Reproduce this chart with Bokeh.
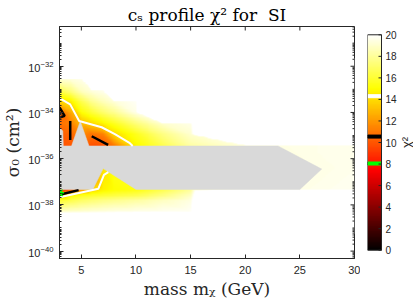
import numpy as np
from bokeh.plotting import figure
from bokeh.layouts import row
from bokeh.models import LinearColorMapper, FixedTicker, Range1d
from bokeh.embed import file_html
from bokeh.resources import INLINE

# ---------------- data ----------------
mass_grid = [3, 4, 5, 6, 7, 8, 10, 12.5, 15, 20, 25, 30]            # GeV
log_sigma_grid = [-39.25, -38.3, -37.825, -37.6, -37.35, -36.4, -35.45,
                  -34.975, -34.5, -34.025, -33.55, -33.075, -32.6, -31.65]
HI = 40.0   # chi^2 well above the colour range (drawn white)
chi2_grid = [
    [HI, HI, HI, HI, HI, HI, HI, HI, HI, HI, HI, HI],                      # -39.25
    [19.0, 19.1, 19.2, 19.3, 19.4, 19.5, 19.6, 19.7, 19.8, HI, HI, HI],    # -38.3
    [16.0, 16.5, 17.0, 17.3, 17.6, 17.8, 18.2, 18.8, 19.4, HI, HI, HI],    # -37.825
    [12.5, 14.8, 15.5, 15.8, 16.0, 16.2, 16.5, 17.5, 18.8, HI, HI, HI],    # -37.6
    [8.3, 10.0, 12.0, 13.8, 14.6, 15.0, 15.3, 16.5, 18.0, 19.6, 19.5, 19.7],  # -37.35
    [9.0, 9.0, 9.5, 11.0, 14.2, 15.5, 16.5, 17.5, 18.5, 19.3, 19.4, 19.6],   # -36.4
    [9.8, 10.0, 10.5, 9.8, 9.9, 11.0, 14.8, 16.5, 18.2, 19.3, 19.5, 19.6],   # -35.45
    [10.2, 10.4, 11.5, 10.8, 11.2, 13.8, 15.5, 17.5, 19.0, HI, HI, HI],      # -34.975
    [10.8, 11.2, 13.0, 13.8, 14.6, 15.5, 17.3, 19.0, 19.5, HI, HI, HI],      # -34.5
    [10.3, 12.3, 15.0, 16.0, 17.0, 17.8, 19.5, HI, HI, HI, HI, HI],          # -34.025
    [13.8, 14.5, 16.5, 17.8, 18.6, 19.2, 19.8, HI, HI, HI, HI, HI],          # -33.55
    [16.5, 17.5, 18.8, 19.3, 19.6, HI, HI, HI, HI, HI, HI, HI],              # -33.075
    [19.0, 19.2, 19.5, HI, HI, HI, HI, HI, HI, HI, HI, HI],                  # -32.6
    [HI, HI, HI, HI, HI, HI, HI, HI, HI, HI, HI, HI],                        # -31.65
]

# excluded (grey) region
excl_mass = [3.0, 3.3, 3.35, 4.1, 4.9, 5.7, 23.0, 27.0, 25.0, 10.0, 7.0, 6.05, 3.0]
excl_logsig = [-34.65, -34.8, -35.45, -35.45, -34.38, -35.45, -35.45, -36.45,
               -37.33, -37.33, -36.43, -37.33, -37.33]

# contour lines (white: 2 sigma, black: 1 sigma)
white_mass = [[3.0, 3.98, 4.8, 6.86, 8.07, 9.44, 9.7],
              [3.0, 6.56, 7.07, 7.47]]
white_logsig = [[-33.38, -33.65, -34.37, -34.64, -34.94, -35.33, -35.45],
                [-37.67, -37.30, -36.70, -36.58]]
black_mass = [[3.0, 3.47, 3.0], [3.98, 3.98], [5.95, 7.45], [3.0, 4.75]]
black_logsig = [[-33.78, -34.15, -34.22], [-34.37, -35.19],
                [-35.03, -35.40], [-37.56, -37.36]]

best_mass = [3.0]
best_logsig = [-37.48]

contour_levels = [8.05, 10.55, 14.3]
contour_colors = ["#00ff00", "#000000", "#ffffff"]

x_range = (3, 30)
y_range_exp = (-40.32, -30.28)
x_ticks = [5, 10, 15, 20, 25, 30]
y_major_exp = [-40, -38, -36, -34, -32]
cbar_range = (0, 20)
cbar_ticks = [0, 2, 4, 6, 8, 10, 12, 14, 16, 18, 20]

# ---------------- styling helpers ----------------
def hot(n=256):
    n1 = int(3 * n / 8)
    r = np.concatenate([np.arange(1, n1 + 1) / n1, np.ones(n - n1)])
    g = np.concatenate([np.zeros(n1), np.arange(1, n1 + 1) / n1, np.ones(n - 2 * n1)])
    n3 = n - 2 * n1
    b = np.concatenate([np.zeros(2 * n1), np.arange(1, n3 + 1) / n3])
    return ["#%02x%02x%02x" % (int(round(a * 255)), int(round(c * 255)), int(round(d * 255)))
            for a, c, d in zip(r, g, b)]

palette = hot(256)
mapper = LinearColorMapper(palette=palette, low=cbar_range[0], high=cbar_range[1])

# piecewise-linear (triangulated) shading of the grid, for display
M = np.array(mass_grid, float)
S = np.array(log_sigma_grid, float)
F = np.array(chi2_grid, float)
W, H = 300, 240
mx = M[0] + (np.arange(W) + 0.5) * (M[-1] - M[0]) / W
sy = S[0] + (np.arange(H) + 0.5) * (S[-1] - S[0]) / H
MM, SS = np.meshgrid(mx, sy)
i = np.clip(np.searchsorted(M, MM, side="right") - 1, 0, len(M) - 2)
j = np.clip(np.searchsorted(S, SS, side="right") - 1, 0, len(S) - 2)
u = (MM - M[i]) / (M[i + 1] - M[i])
v = (SS - S[j]) / (S[j + 1] - S[j])
f00, f10, f01, f11 = F[j, i], F[j, i + 1], F[j + 1, i], F[j + 1, i + 1]
img = np.where(u + v <= 1,
               f00 + u * (f10 - f00) + v * (f01 - f00),
               f11 + (1 - u) * (f01 - f11) + (1 - v) * (f10 - f11))

AX = "#262626"
SERIF = "DejaVu Serif"
SANS = "Liberation Sans"

ylo, yhi = 10 ** y_range_exp[0], 10 ** y_range_exp[1]

# ---------------- main plot ----------------
p = figure(width=360, height=303, x_range=Range1d(*x_range),
           y_range=Range1d(ylo, yhi), y_axis_type="log",
           output_backend="svg", toolbar_location=None,
           min_border_left=58, min_border_right=6, min_border_top=24,
           min_border_bottom=45)
p.grid.visible = False
p.outline_line_color = AX
p.background_fill_color = "white"
p.border_fill_color = "white"

p.title.text = "cₛ profile χ² for\u00a0\u00a0SI"
p.title.align = "center"
p.title.text_font = SERIF
p.title.text_font_size = "17px"
p.title.text_font_style = "normal"
p.title.text_color = "black"
p.title.standoff = 4

p.image(image=[img], x=M[0], y=10 ** S[0], dw=M[-1] - M[0],
        dh=10 ** S[-1] - 10 ** S[0], color_mapper=mapper)
p.patch(x=excl_mass, y=[10 ** s for s in excl_logsig], fill_color="#d9d9d9",
        line_color="#d9d9d9", line_width=0.5)
p.multi_line(xs=white_mass, ys=[[10 ** s for s in ln] for ln in white_logsig],
             line_color="white", line_width=2)
p.multi_line(xs=black_mass, ys=[[10 ** s for s in ln] for ln in black_logsig],
             line_color="black", line_width=2.5)
p.scatter(x=best_mass, y=[10 ** s for s in best_logsig], marker="asterisk",
          size=9, line_color="#00ff00", line_width=1.5)

yt = [10.0 ** e for e in y_major_exp]
ymin = [k * 10.0 ** e for e in range(-41, -29) for k in range(1, 10)
        if not (k == 1 and e in y_major_exp)]
ymin = [t for t in ymin if ylo <= t <= yhi]
xtick = FixedTicker(ticks=x_ticks, minor_ticks=[])
ytick = FixedTicker(ticks=yt, minor_ticks=ymin)

for ax in p.xaxis:
    ax.ticker = xtick
    ax.axis_label = "mass mᵪ (GeV)"
for ax in p.yaxis:
    ax.ticker = ytick
    ax.axis_label = "σ₀ (cm²)"
for ax in list(p.xaxis) + list(p.yaxis):
    ax.axis_line_color = AX
    ax.major_tick_line_color = AX
    ax.minor_tick_line_color = AX
    ax.major_tick_in = 4
    ax.major_tick_out = 0
    ax.minor_tick_in = 2
    ax.minor_tick_out = 0
    ax.major_label_text_font = SANS
    ax.major_label_text_font_size = "11px"
    ax.major_label_text_color = AX
    ax.axis_label_text_font = SERIF
    ax.axis_label_text_font_size = "17px"
    ax.axis_label_text_font_style = "normal"
    ax.axis_label_text_color = AX
p.xaxis.major_label_standoff = 7
p.xaxis.axis_label_standoff = 2
p.yaxis.major_label_standoff = 6
p.yaxis.axis_label_standoff = 2

# mirrored ticks on the top and right edges of the box
p.ray(x=x_ticks, y=[yhi] * len(x_ticks), length=4, length_units="screen",
      angle=-np.pi / 2, line_color=AX, line_width=1)
p.ray(x=[x_range[1]] * len(yt), y=yt, length=4, length_units="screen",
      angle=np.pi, line_color=AX, line_width=1)
p.ray(x=[x_range[1]] * len(ymin), y=ymin, length=2, length_units="screen",
      angle=np.pi, line_color=AX, line_width=1)

# ---------------- colour bar (bar occupies x in [0, 1]) ----------------
cb_pad = 0.77   # room above/below the bar for the end labels
cb = figure(width=53, height=303, x_range=Range1d(0, 46 / 14),
            y_range=Range1d(cbar_range[0] - cb_pad, cbar_range[1] + cb_pad),
            output_backend="svg", toolbar_location=None,
            min_border_left=7, min_border_right=0, min_border_top=16,
            min_border_bottom=35)
cb.grid.visible = False
cb.axis.visible = False
cb.outline_line_color = None
cb.background_fill_color = "white"
cb.border_fill_color = "white"
cb.image(image=[np.linspace(cbar_range[0], cbar_range[1], 256).reshape(-1, 1)],
         x=0, y=cbar_range[0], dw=1, dh=cbar_range[1] - cbar_range[0],
         color_mapper=mapper)
cb.hbar(y=contour_levels, height=0.28, left=0, right=1, color=contour_colors)
cb.quad(left=[0], right=[1], bottom=[cbar_range[0]], top=[cbar_range[1]],
        fill_color=None, line_color=AX, line_width=1)
cb.ray(x=[1] * len(cbar_ticks), y=cbar_ticks, length=3, length_units="screen",
       angle=np.pi, line_color=AX, line_width=1)
cb.text(x=[1] * len(cbar_ticks), y=cbar_ticks, text=[str(t) for t in cbar_ticks],
        x_offset=4, text_align="left", text_baseline="middle",
        text_font={"value": SANS}, text_font_size="10px", text_color=AX)
cb.text(x=[2.79], y=[sum(cbar_range) / 2], text=["χ²"], angle=np.pi / 2,
        text_align="center", text_baseline="middle",
        text_font={"value": SANS}, text_font_size="13px", text_color=AX)

layout = row(p, cb)
open("out.html", "w").write(file_html(layout, INLINE))
